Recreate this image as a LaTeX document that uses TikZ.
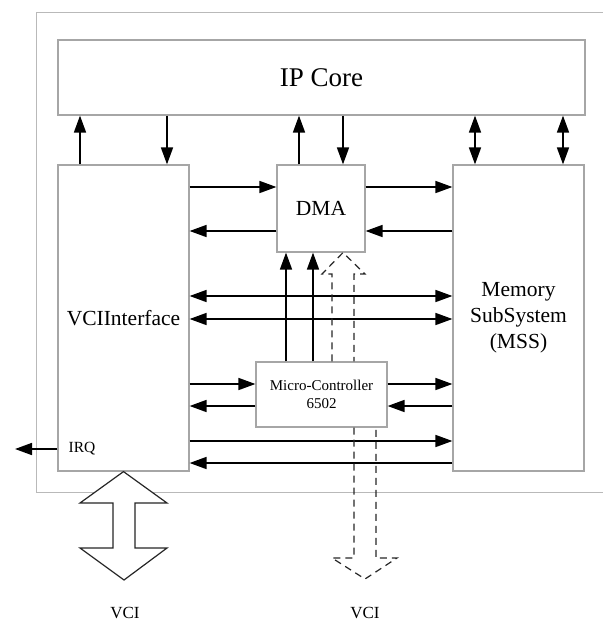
\documentclass[tikz,border=0pt]{standalone}
\usepackage{fontspec}
\setmainfont{Liberation Serif}
\usetikzlibrary{arrows.meta}

\begin{document}
\begin{tikzpicture}[x=1pt, y=-1pt,
    >={Triangle[length=17pt,width=12pt]},
    flecha/.style={line width=1.7pt},
    bloque/.style={draw=gray!70, line width=1.2pt, fill=white, inner sep=0pt, align=center},
    hueca/.style={black!85, line width=1.2pt, line join=miter}]
  \useasboundingbox (0,0) rectangle (603,622);

  % Marco exterior
  \draw[gray!55, line width=1pt] (603,12) -- (36,12) -- (36,492) -- (603,492);

  % Bloques
  \node[bloque, minimum width=527pt, minimum height=75pt,
    font=\fontsize{27}{32}\selectfont] (ipcore) at (321.5,77.5) {IP Core};
  \node[bloque, minimum width=131pt, minimum height=306pt,
    font=\fontsize{21.5}{26}\selectfont] (vci) at (123.5,318) {VCIInterface};
  \node[bloque, minimum width=88pt, minimum height=87pt,
    font=\fontsize{21.5}{26}\selectfont] (dma) at (321,208.5) {DMA};
  \node[bloque, minimum width=131pt, minimum height=306pt,
    font=\fontsize{21.5}{26}\selectfont] (mss) at (518.5,318) {Memory\\SubSystem\\(MSS)};
  \node[bloque, minimum width=131pt, minimum height=65pt,
    font=\fontsize{15}{18}\selectfont] (mc) at (321.5,394.5) {Micro-Controller\\6502};

  % Conexiones con el IP Core
  \draw[flecha,->] (vci.north -| 80,0) -- (ipcore.south -| 80,0);
  \draw[flecha,->] (ipcore.south -| 167,0) -- (vci.north -| 167,0);
  \draw[flecha,->] (dma.north -| 299,0) -- (ipcore.south -| 299,0);
  \draw[flecha,->] (ipcore.south -| 343,0) -- (dma.north -| 343,0);
  \draw[flecha,<->] (ipcore.south -| 475,0) -- (mss.north -| 475,0);
  \draw[flecha,<->] (ipcore.south -| 563,0) -- (mss.north -| 563,0);

  % DMA
  \draw[flecha,->] (vci.east |- 0,187) -- (dma.west |- 0,187);
  \draw[flecha,->] (dma.east |- 0,187) -- (mss.west |- 0,187);
  \draw[flecha,->] (dma.west |- 0,231) -- (vci.east |- 0,231);
  \draw[flecha,->] (mss.west |- 0,231) -- (dma.east |- 0,231);

  % Buses entre VCIInterface y MSS
  \draw[flecha,<->] (vci.east |- 0,296) -- (mss.west |- 0,296);
  \draw[flecha,<->] (vci.east |- 0,319) -- (mss.west |- 0,319);
  \draw[flecha,->] (vci.east |- 0,441) -- (mss.west |- 0,441);
  \draw[flecha,->] (mss.west |- 0,463) -- (vci.east |- 0,463);

  % Micro-controlador
  \draw[flecha,->] (vci.east |- 0,384) -- (mc.west |- 0,384);
  \draw[flecha,->] (mc.east |- 0,384) -- (mss.west |- 0,384);
  \draw[flecha,->] (mc.west |- 0,406) -- (vci.east |- 0,406);
  \draw[flecha,->] (mss.west |- 0,406) -- (mc.east |- 0,406);
  \draw[flecha,->] (mc.north -| 286,0) -- (dma.south -| 286,0);
  \draw[flecha,->] (mc.north -| 313,0) -- (dma.south -| 313,0);

  % Flechas huecas discontinuas
  \draw[hueca, dashed, dash pattern=on 7pt off 5pt]
    (mc.north -| 332,0) -- (332,274) -- (322,274) -- (dma.south -| 343,0)
    -- (365,274) -- (354,274) -- (mc.north -| 354,0);
  \draw[hueca, dashed, dash pattern=on 7pt off 5pt]
    (mc.south -| 354,0) -- (354,558) -- (332,558) -- (365,579)
    -- (397,558) -- (376,558) -- (mc.south -| 376,0);

  % Bus VCI
  \draw[hueca, fill=white]
    (vci.south) -- (167,503) -- (135,503) -- (135,548) -- (167,548) -- (124,580)
    -- (80,548) -- (113,548) -- (113,503) -- (80,503) -- cycle;

  % IRQ
  \coordinate (irq) at (15,449);
  \draw[flecha,->] (vci.west |- irq) -- (irq);
  \node[font=\fontsize{15.5}{18}\selectfont] (irqlabel) at (82,449) {IRQ};

  % Etiquetas
  \node[font=\fontsize{17}{20}\selectfont] (vcia) at (125,613) {VCI};
  \node[font=\fontsize{17}{20}\selectfont] (vcib) at (365,613) {VCI};
\end{tikzpicture}
\end{document}
